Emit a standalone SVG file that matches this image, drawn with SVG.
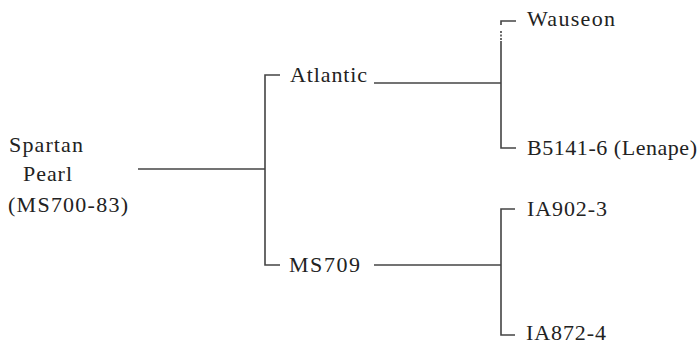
<svg xmlns="http://www.w3.org/2000/svg" width="699" height="345" viewBox="0 0 699 345">
<style>
text{font-family:"Liberation Serif","Times New Roman",serif;font-size:22px;fill:#222}
.c{fill:none;stroke:#444;stroke-width:1.6}
</style>
<rect width="699" height="345" fill="#fff"/>
<g id="connectors">
<path class="c" d="M138,169 H265"/>
<path class="c" d="M280,75 H265 V265 H280"/>
<path class="c" d="M374,83 H501"/>
<path class="c" d="M516,21 H501 V25"/>
<path class="c" d="M501,31 V41" stroke-dasharray="2 1.5"/>
<path class="c" d="M501,41 V148 H516"/>
<path class="c" d="M374,265 H501"/>
<path class="c" d="M515,209 H501 V335 H515"/>
</g>
<g id="spartan"><text x="9" y="152" textLength="74">Spartan</text><text x="23" y="181" textLength="49">Pearl</text><text x="8" y="212" textLength="120">(MS700-83)</text></g>
<g id="atlantic"><text x="290" y="82" textLength="77">Atlantic</text></g>
<g id="ms709"><text x="289" y="272" textLength="71">MS709</text></g>
<g id="wauseon"><text x="527" y="26" textLength="88">Wauseon</text></g>
<g id="b5141"><text x="527" y="155" textLength="170">B5141-6 (Lenape)</text></g>
<g id="ia902"><text x="527" y="216" textLength="80">IA902-3</text></g>
<g id="ia872"><text x="526" y="340" textLength="80">IA872-4</text></g>
</svg>
